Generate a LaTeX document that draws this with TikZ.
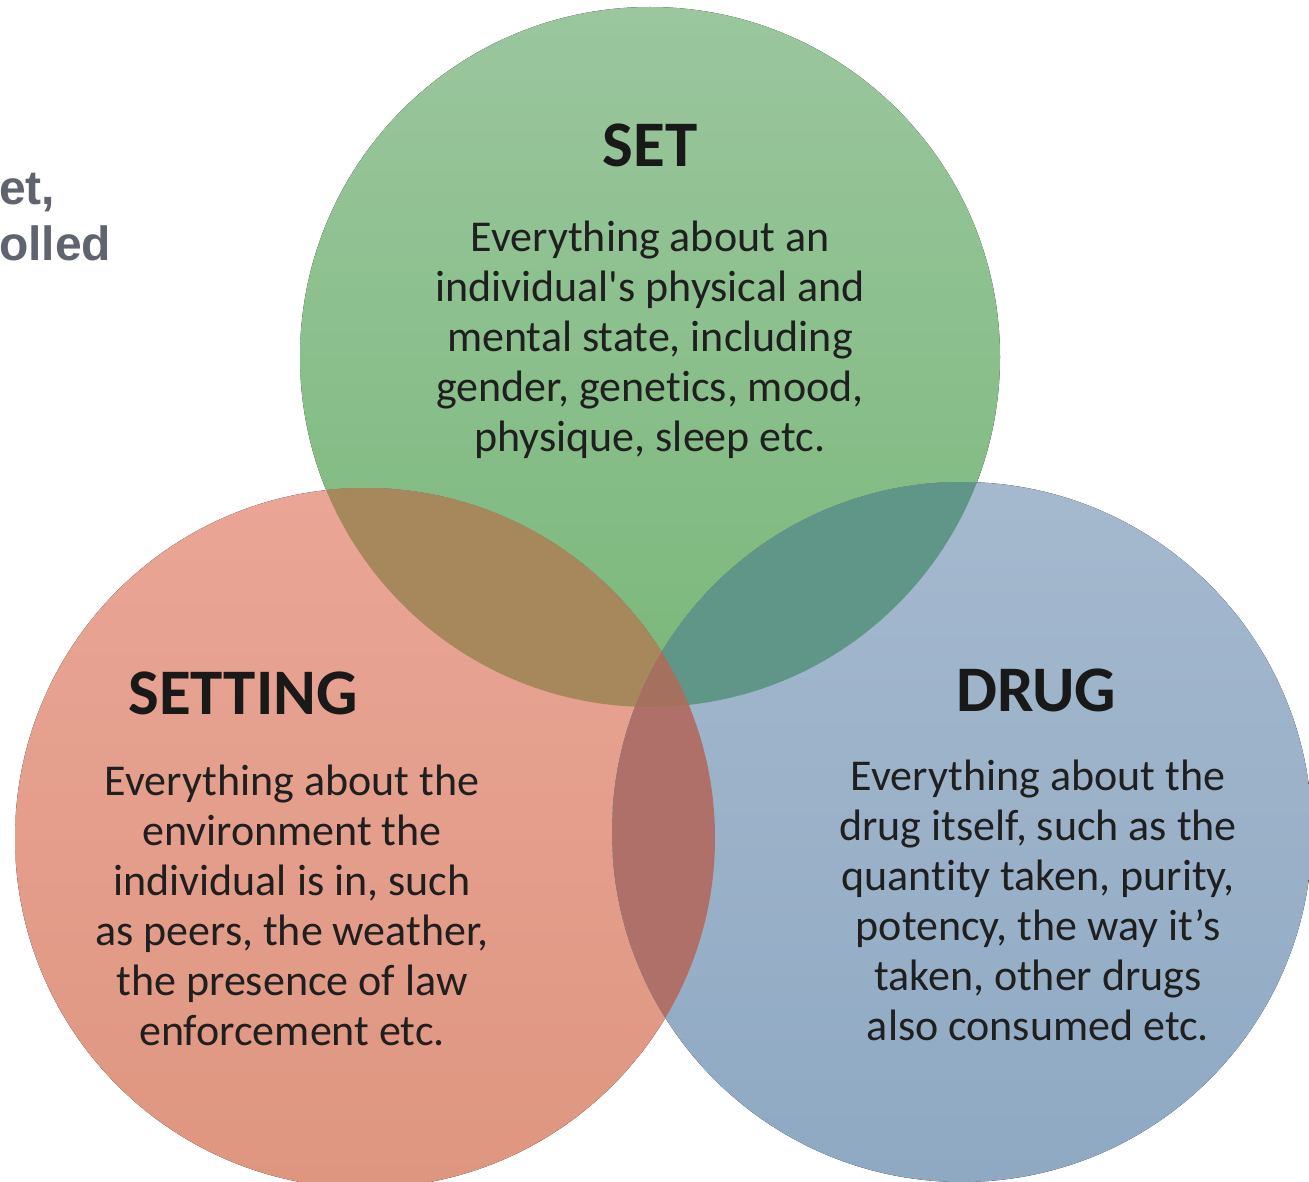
\documentclass[tikz,border=0pt]{standalone}
\usepackage{fontspec}
\setmainfont{Carlito}[Ligatures=NoCommon]
\newfontfamily\slidefont{Liberation Sans}
\definecolor{setTop}{RGB}{155,198,158}
\definecolor{setBot}{RGB}{122,184,122}
\definecolor{settingTop}{RGB}{234,165,150}
\definecolor{settingBot}{RGB}{222,150,128}
\definecolor{drugTop}{RGB}{165,185,206}
\definecolor{drugBot}{RGB}{143,169,195}
\definecolor{mixRG}{RGB}{167,136,92}
\definecolor{mixGB}{RGB}{95,150,136}
\definecolor{mixRB}{RGB}{176,112,106}
\definecolor{mixAll}{RGB}{166,112,95}
\definecolor{slidegray}{RGB}{95,100,110}
\tikzset{
  heading/.style={font=\bfseries\fontsize{65}{70}\selectfont, text=black!90},
  body/.style={font=\fontsize{44}{50}\selectfont, align=center, text=black!88},
  slidetext/.style={anchor=base west, inner sep=0pt, text=slidegray,
    font=\slidefont\bfseries\fontsize{48}{54}\selectfont},
}
\begin{document}
\begin{tikzpicture}[x=1pt,y=-1pt]
\useasboundingbox (0,0) rectangle (1309,1182);
\coordinate (cset) at (650,357);
\coordinate (csetting) at (365,838);
\coordinate (cdrug) at (962,832);
% circles
\fill[top color=setTop,bottom color=setBot] (cset) circle (350pt);
\fill[top color=settingTop,bottom color=settingBot] (csetting) circle (350pt);
\fill[top color=drugTop,bottom color=drugBot] (cdrug) circle (350pt);
% overlaps
\begin{scope}
\clip (cset) circle (350pt);
\fill[mixRG] (csetting) circle (350pt);
\fill[mixGB] (cdrug) circle (350pt);
\end{scope}
\begin{scope}
\clip (csetting) circle (350pt);
\fill[mixRB] (cdrug) circle (350pt);
\clip (cdrug) circle (350pt);
\fill[mixAll] (cset) circle (350pt);
\end{scope}
% texts
\node[heading] (set) at (650,145) {SET};
\node[body] (settxt) at (650,340) {Everything about an\\individual\textquotesingle s physical and\\mental state, including\\gender, genetics, mood,\\physique, sleep etc.};
\node[heading] (setting) at (243,693) {SETTING};
\node[body] (settingtxt) at (292,905) {Everything about the\\environment the\\individual is in, such\\as peers, the weather,\\the presence of law\\enforcement etc.};
\node[heading] (drug) at (1036,690) {DRUG};
\node[body] (drugtxt) at (1038,900) {Everything about the\\drug itself, such as the\\quantity taken, purity,\\potency, the way it’s\\taken, other drugs\\also consumed etc.};
% cut-off slide text
\node[slidetext] (et) at (-1,205) {et,};
\node[slidetext] (olled) at (-1,261) {olled};
\end{tikzpicture}
\end{document}
